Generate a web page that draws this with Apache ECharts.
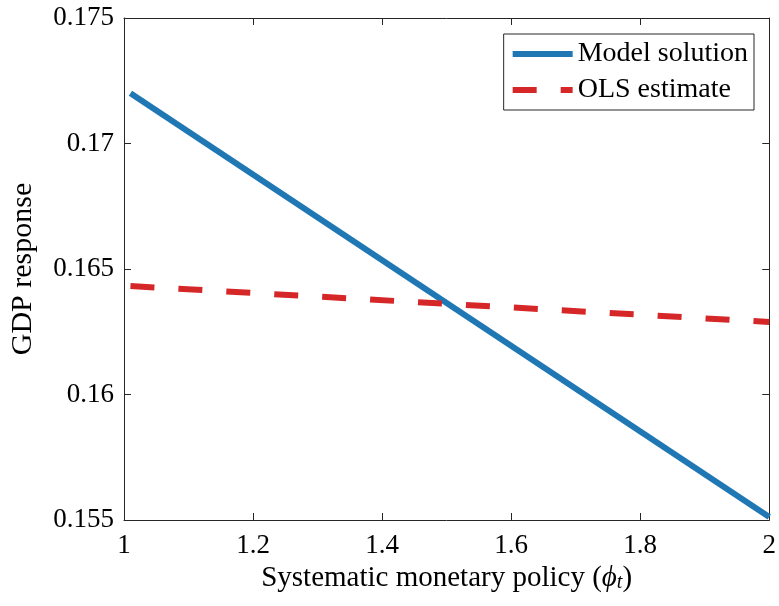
<!DOCTYPE html>
<html>
<head>
<meta charset="utf-8">
<script src="https://cdn.jsdelivr.net/npm/echarts@6/dist/echarts.min.js"></script>
<style>
  html, body { margin: 0; padding: 0; background: #fff; }
  #chart { width: 779px; height: 606px; }
</style>
</head>
<body>
<div id="chart"></div>
<script>
var phi = [1.01, 2];
var modelSolution = [0.1720, 0.15512];
var olsEstimate = [0.16432, 0.16289];
var xTicks = [1, 1.2, 1.4, 1.6, 1.8, 2];
var yTicks = [0.155, 0.16, 0.165, 0.17, 0.175];

var serif = 'Liberation Serif';
var axisColor = '#262626';

function pairs(xs, ys) {
    return xs.map(function (x, i) { return [x, ys[i]]; });
}

var myChart = echarts.init(document.getElementById('chart'));
var option = {
    backgroundColor: '#fff',
    animation: false,
    grid: { left: 123, right: 9, top: 18, bottom: 86 },
    legend: {
        orient: 'vertical',
        right: 25,
        top: 34,
        padding: [6, 6, 6, 6],
        itemGap: 8,
        itemWidth: 60,
        itemHeight: 6,
        borderColor: axisColor,
        borderWidth: 1,
        backgroundColor: '#fff',
        itemStyle: { opacity: 0 },
        lineStyle: { width: 6, cap: 'butt' },
        textStyle: { fontFamily: serif, fontSize: 28, color: '#000', padding: [0, 10, 0, 0] },
        data: ['Model solution', 'OLS estimate']
    },
    xAxis: [{
        type: 'value',
        min: 1, max: 2, interval: 0.2,
        name: '{n|Systematic monetary policy (}{it|ϕ}{sub|t}{n|)}',
        nameLocation: 'middle',
        nameGap: 44,
        nameTextStyle: {
            rich: {
                n: { fontFamily: serif, fontSize: 29, color: '#000' },
                it: { fontFamily: serif, fontSize: 29, fontStyle: 'italic', color: '#000' },
                sub: { fontFamily: serif, fontSize: 20, fontStyle: 'italic', color: '#000', verticalAlign: 'bottom' }
            }
        },
        axisLine: { show: true, lineStyle: { color: axisColor, width: 1 } },
        axisTick: { inside: true, length: 7, lineStyle: { color: axisColor } },
        axisLabel: {
            fontFamily: serif, fontSize: 27, color: '#000', margin: 12,
            formatter: function (v) { return xTicks.indexOf(+v.toFixed(1)) >= 0 ? String(+v.toFixed(1)) : ''; }
        },
        splitLine: { show: false }
    }, {
        type: 'value', position: 'top',
        min: 1, max: 2, interval: 0.2,
        axisLine: { show: true, lineStyle: { color: axisColor, width: 1 } },
        axisTick: { inside: true, length: 7, lineStyle: { color: axisColor } },
        axisLabel: { show: false },
        splitLine: { show: false }
    }],
    yAxis: [{
        type: 'value',
        min: 0.155, max: 0.175, interval: 0.005,
        name: 'GDP response',
        nameLocation: 'middle',
        nameGap: 86,
        nameTextStyle: { fontFamily: serif, fontSize: 30, color: '#000' },
        axisLine: { show: true, lineStyle: { color: axisColor, width: 1 } },
        axisTick: { inside: true, length: 7, lineStyle: { color: axisColor } },
        axisLabel: {
            fontFamily: serif, fontSize: 27, color: '#000', margin: 10,
            formatter: function (v) { return String(+v.toFixed(3)); }
        },
        splitLine: { show: false }
    }, {
        type: 'value', position: 'right',
        min: 0.155, max: 0.175, interval: 0.005,
        axisLine: { show: true, lineStyle: { color: axisColor, width: 1 } },
        axisTick: { inside: true, length: 7, lineStyle: { color: axisColor } },
        axisLabel: { show: false },
        splitLine: { show: false }
    }],
    series: [{
        name: 'Model solution',
        type: 'line',
        data: pairs(phi, modelSolution),
        symbol: 'none',
        itemStyle: { color: '#1f77b4' },
        lineStyle: { color: '#1f77b4', width: 6 }
    }, {
        name: 'OLS estimate',
        type: 'line',
        data: pairs(phi, olsEstimate),
        symbol: 'none',
        itemStyle: { color: '#d62728' },
        lineStyle: { color: '#d62728', width: 6, type: [24, 24] }
    }]
};
myChart.setOption(option);
</script>
</body>
</html>
